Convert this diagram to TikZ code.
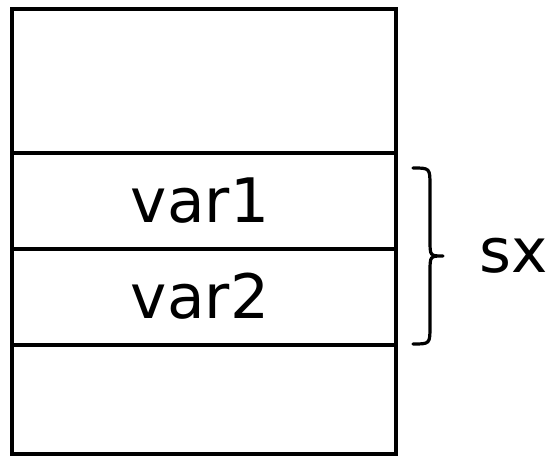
\documentclass[tikz,border=0pt]{standalone}
\usepackage{fontspec}
\setmainfont{DejaVu Sans}
\begin{document}
\begin{tikzpicture}[x=0.75pt,y=-0.75pt,
  box/.style={line width=3pt},
  lbl/.style={font=\fontsize{46}{52}\selectfont, inner sep=0pt},
  brc/.style={line width=2.4pt, line cap=round, line join=round}]
\useasboundingbox (0,0) rectangle (558,456);
\draw[box] (12,9) rectangle (396,454);
\draw[box] (12,153) -- (396,153);
\draw[box] (12,249) -- (396,249);
\draw[box] (12,345) -- (396,345);
\node[lbl, anchor=base] (v1) at (200,223) {var1};
\node[lbl, anchor=base] (v2) at (200,319) {var2};
\draw[brc] (413,168) .. controls (430,168) .. (430,186) -- (430,240)
  .. controls (430,256) .. (443,256) .. controls (430,256) .. (430,272)
  -- (430,326) .. controls (430,344) .. (413,344);
\node[lbl, anchor=base west] (sx) at (479,273) {sx};
\end{tikzpicture}
\end{document}
